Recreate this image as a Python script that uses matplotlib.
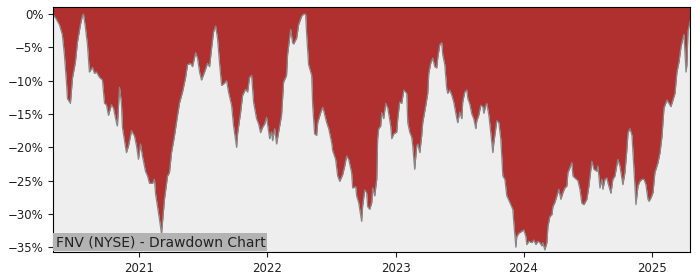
import matplotlib
matplotlib.use('Agg')
import matplotlib.pyplot as plt
import matplotlib.dates as mdates
import numpy as np
import pandas as pd

# drawdown of FNV, dates as decimal years, values in percent
years = [2020.325, 2020.352, 2020.375, 2020.398, 2020.414, 2020.430, 2020.438, 2020.461, 2020.477, 2020.500,
         2020.516, 2020.539, 2020.555, 2020.563, 2020.578, 2020.594, 2020.609, 2020.633, 2020.648, 2020.664,
         2020.688, 2020.711, 2020.727, 2020.742, 2020.758, 2020.781, 2020.797, 2020.820, 2020.828, 2020.844,
         2020.859, 2020.867, 2020.883, 2020.898, 2020.914, 2020.938, 2020.961, 2020.977, 2020.992, 2021.008,
         2021.023, 2021.047, 2021.063, 2021.078, 2021.102, 2021.117, 2021.125, 2021.141, 2021.156, 2021.172,
         2021.195, 2021.219, 2021.234, 2021.250, 2021.273, 2021.297, 2021.313, 2021.336, 2021.359, 2021.375,
         2021.398, 2021.414, 2021.438, 2021.453, 2021.469, 2021.484, 2021.508, 2021.531, 2021.547, 2021.563,
         2021.578, 2021.594, 2021.609, 2021.625, 2021.641, 2021.656, 2021.680, 2021.695, 2021.719, 2021.734,
         2021.758, 2021.766, 2021.789, 2021.805, 2021.828, 2021.844, 2021.859, 2021.875, 2021.891, 2021.914,
         2021.930, 2021.945, 2021.961, 2021.977, 2021.992, 2022.016, 2022.031, 2022.039, 2022.055, 2022.070,
         2022.086, 2022.109, 2022.125, 2022.148, 2022.156, 2022.180, 2022.195, 2022.203, 2022.227, 2022.242,
         2022.266, 2022.281, 2022.297, 2022.305, 2022.320, 2022.344, 2022.352, 2022.367, 2022.383, 2022.391,
         2022.414, 2022.430, 2022.438, 2022.461, 2022.477, 2022.500, 2022.508, 2022.531, 2022.547, 2022.563,
         2022.586, 2022.602, 2022.617, 2022.633, 2022.656, 2022.664, 2022.688, 2022.695, 2022.711, 2022.734,
         2022.742, 2022.758, 2022.773, 2022.781, 2022.797, 2022.813, 2022.820, 2022.836, 2022.852, 2022.859,
         2022.867, 2022.883, 2022.891, 2022.906, 2022.922, 2022.938, 2022.961, 2022.969, 2022.984, 2023.008,
         2023.016, 2023.031, 2023.047, 2023.063, 2023.086, 2023.094, 2023.109, 2023.125, 2023.133, 2023.148,
         2023.164, 2023.172, 2023.188, 2023.203, 2023.211, 2023.234, 2023.250, 2023.258, 2023.273, 2023.289,
         2023.305, 2023.320, 2023.328, 2023.344, 2023.359, 2023.367, 2023.383, 2023.398, 2023.406, 2023.422,
         2023.438, 2023.453, 2023.477, 2023.484, 2023.500, 2023.516, 2023.523, 2023.539, 2023.555, 2023.563,
         2023.578, 2023.594, 2023.609, 2023.625, 2023.633, 2023.648, 2023.664, 2023.680, 2023.688, 2023.703,
         2023.711, 2023.727, 2023.742, 2023.758, 2023.766, 2023.781, 2023.789, 2023.805, 2023.820, 2023.836,
         2023.852, 2023.867, 2023.875, 2023.898, 2023.914, 2023.922, 2023.938, 2023.945, 2023.961, 2023.984,
         2024.000, 2024.016, 2024.023, 2024.039, 2024.063, 2024.078, 2024.094, 2024.109, 2024.125, 2024.141,
         2024.148, 2024.164, 2024.180, 2024.188, 2024.203, 2024.219, 2024.227, 2024.242, 2024.258, 2024.273,
         2024.289, 2024.305, 2024.320, 2024.336, 2024.344, 2024.359, 2024.375, 2024.383, 2024.398, 2024.422,
         2024.438, 2024.453, 2024.469, 2024.492, 2024.508, 2024.523, 2024.531, 2024.547, 2024.570, 2024.578,
         2024.594, 2024.609, 2024.617, 2024.633, 2024.648, 2024.656, 2024.680, 2024.695, 2024.711, 2024.727,
         2024.734, 2024.750, 2024.766, 2024.773, 2024.789, 2024.805, 2024.813, 2024.828, 2024.844, 2024.852,
         2024.867, 2024.875, 2024.891, 2024.906, 2024.922, 2024.938, 2024.953, 2024.969, 2024.977, 2024.992,
         2025.008, 2025.023, 2025.047, 2025.063, 2025.078, 2025.094, 2025.117, 2025.133, 2025.148, 2025.164,
         2025.180, 2025.195, 2025.211, 2025.227, 2025.242, 2025.250, 2025.266, 2025.273, 2025.281, 2025.297]

drawdown = [0.0, -0.8, -1.6, -3.1, -6.1, -10.2, -12.7, -13.4, -9.6, -7.2,
            -4.2, -1.6, -0.2, 0.0, -2.0, -4.6, -8.7, -8.0, -8.9, -8.7,
            -9.5, -9.9, -13.4, -13.6, -15.2, -13.6, -14.1, -16.3, -16.8, -11.0,
            -13.3, -17.0, -19.0, -20.8, -19.8, -17.5, -18.3, -19.8, -21.8, -19.5,
            -21.3, -23.6, -24.3, -25.4, -25.4, -24.8, -26.9, -28.9, -30.8, -33.0,
            -27.8, -24.3, -23.8, -20.8, -18.3, -15.2, -13.3, -11.7, -9.6, -7.6,
            -7.4, -7.9, -5.8, -6.6, -8.7, -9.9, -8.7, -7.4, -7.9, -5.1,
            -2.7, -1.8, -3.6, -7.4, -10.7, -10.5, -10.0, -11.7, -13.7, -16.7,
            -20.0, -17.9, -14.8, -12.2, -11.3, -11.7, -9.5, -9.2, -13.3, -15.7,
            -16.5, -17.8, -17.0, -16.5, -15.5, -18.7, -17.7, -19.0, -17.2, -19.5,
            -17.7, -15.2, -10.2, -9.2, -6.1, -2.3, -4.3, -4.5, -3.6, -1.6,
            -0.3, 0.0, 0.0, -3.1, -7.6, -9.2, -13.7, -18.0, -18.2, -16.3,
            -14.8, -14.0, -14.5, -16.3, -17.2, -19.3, -20.5, -21.8, -24.3, -25.1,
            -24.1, -22.8, -21.3, -21.8, -23.8, -26.1, -25.9, -27.3, -28.3, -31.1,
            -28.8, -26.4, -26.8, -28.9, -29.3, -28.3, -26.1, -27.3, -24.8, -18.7,
            -17.2, -16.8, -14.8, -15.7, -13.4, -14.1, -16.8, -18.7, -18.0, -17.7,
            -15.7, -13.2, -13.4, -11.4, -11.9, -16.3, -17.7, -18.5, -19.8, -23.3,
            -19.8, -19.5, -20.8, -18.2, -16.3, -13.8, -11.9, -8.9, -7.4, -6.6,
            -7.9, -8.1, -6.6, -4.6, -4.3, -6.1, -7.6, -11.2, -11.9, -11.4,
            -12.2, -13.2, -15.7, -16.3, -14.7, -15.7, -13.2, -11.7, -11.4, -12.7,
            -13.5, -15.0, -15.7, -17.2, -16.0, -15.2, -13.7, -13.9, -14.9, -13.7,
            -13.4, -15.2, -17.8, -20.8, -19.3, -17.2, -16.0, -16.3, -18.7, -24.3,
            -24.8, -27.3, -27.6, -28.6, -29.3, -31.4, -35.0, -33.4, -32.9, -32.6,
            -32.4, -33.4, -34.6, -34.1, -34.3, -33.9, -34.6, -34.1, -34.3, -34.8,
            -34.3, -35.4, -34.3, -31.9, -30.4, -30.1, -28.9, -28.3, -27.3, -26.3,
            -27.8, -26.8, -26.1, -25.8, -23.8, -23.1, -22.3, -24.3, -24.6, -25.0,
            -26.3, -28.4, -28.6, -27.8, -25.8, -23.3, -22.1, -23.3, -23.6, -22.8,
            -26.1, -24.8, -26.3, -24.8, -24.6, -25.3, -26.9, -24.8, -24.3, -22.6,
            -21.8, -22.8, -24.8, -25.6, -23.8, -20.2, -17.8, -17.2, -18.2, -20.8,
            -25.8, -28.6, -25.8, -25.1, -24.8, -24.8, -25.6, -27.8, -28.1, -27.6,
            -26.8, -23.8, -22.3, -20.8, -18.4, -14.1, -12.9, -13.4, -13.9, -12.9,
            -11.9, -8.7, -7.2, -4.9, -3.6, -3.1, -8.7, -7.6, -2.6, -1.1]

title = 'FNV (NYSE) - Drawdown Chart'

# decimal year -> real dates
yrs = np.array(years)
dates = pd.to_datetime('2021-01-01') + pd.to_timedelta((yrs - 2021) * 365.25, unit='D')
dd = np.array(drawdown)

fig = plt.figure(figsize=(7, 2.8), dpi=100)
ax = fig.add_axes([0.0757, 0.099, 0.91, 0.877])
ax.set_facecolor('#eeeeee')

top = 1.1
ax.fill_between(dates, dd, top, color='#b03030', lw=0)
ax.plot(dates, dd, color='#888888', lw=0.9)

ax.set_xlim(dates[0], dates[-1])
ax.set_ylim(-35.75, top)
ax.set_yticks(np.arange(0, -36, -5))
ax.yaxis.set_major_formatter(plt.FuncFormatter(lambda v, p: '%d%%' % v if v >= 0 else '\u2212%d%%' % -v))
ax.xaxis.set_major_locator(mdates.YearLocator())
ax.xaxis.set_major_formatter(mdates.DateFormatter('%Y'))
ax.tick_params(labelsize=8.5, colors='#222222')

ax.text(0.004, 0.012, title, transform=ax.transAxes, fontsize=10, color='#222222',
        ha='left', va='bottom',
        bbox=dict(boxstyle='square,pad=0.15', facecolor='#b3b3b3', edgecolor='none'))

fig.savefig('out.png', dpi=100)
